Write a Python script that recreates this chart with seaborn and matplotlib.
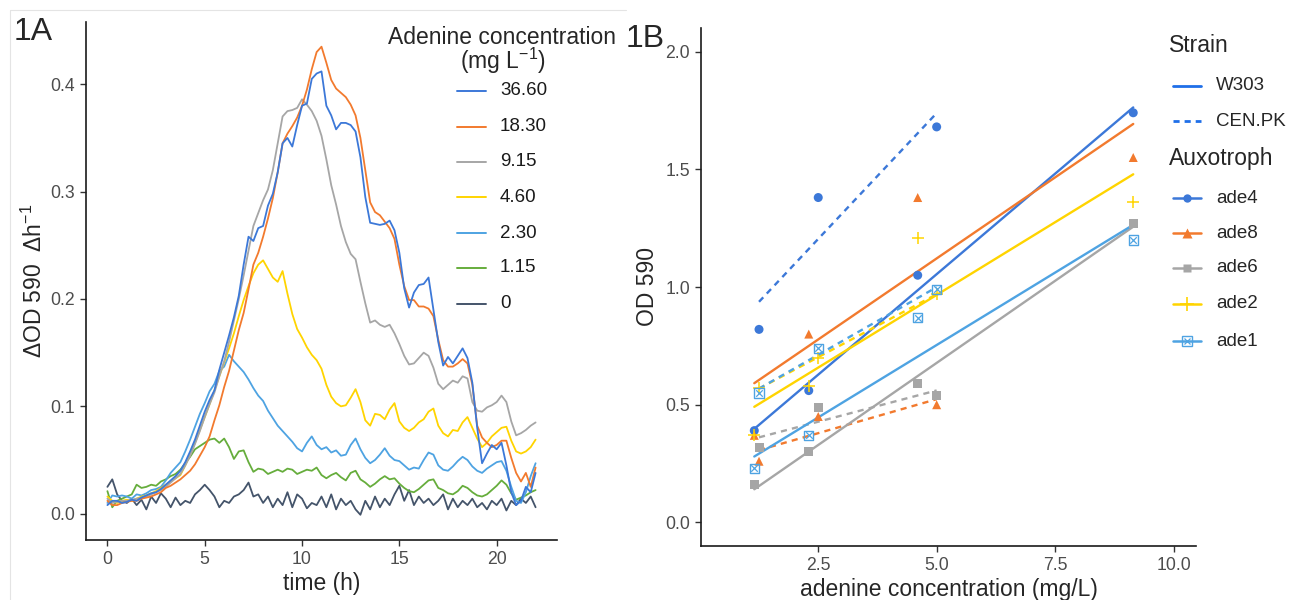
import numpy as np
import pandas as pd
import matplotlib
matplotlib.use("Agg")
import matplotlib.pyplot as plt
from matplotlib.lines import Line2D
from matplotlib.markers import MarkerStyle
import seaborn as sns

# ---------------- Panel A data ----------------
time_h = np.arange(0, 22.001, 0.25)

conc_labels = ["36.60", "18.30", "9.15", "4.60", "2.30", "1.15", "0"]

rate_36_60 = [0.008, 0.012, 0.012, 0.010, 0.011, 0.013, 0.012, 0.015, 0.017, 0.019, 0.020, 0.023,
              0.027, 0.031, 0.035, 0.040, 0.048, 0.058, 0.069, 0.082, 0.095, 0.106, 0.115, 0.134,
              0.150, 0.166, 0.183, 0.203, 0.232, 0.258, 0.254, 0.266, 0.268, 0.287, 0.298, 0.318,
              0.345, 0.350, 0.342, 0.362, 0.380, 0.382, 0.405, 0.410, 0.412, 0.380, 0.371, 0.358,
              0.364, 0.364, 0.362, 0.356, 0.332, 0.295, 0.271, 0.270, 0.269, 0.270, 0.273, 0.264,
              0.243, 0.210, 0.192, 0.206, 0.213, 0.214, 0.220, 0.190, 0.160, 0.138, 0.146, 0.140,
              0.147, 0.154, 0.145, 0.122, 0.080, 0.047, 0.056, 0.064, 0.060, 0.066, 0.045, 0.020,
              0.008, 0.012, 0.025, 0.020, 0.038]

rate_18_30 = [0.012, 0.008, 0.008, 0.010, 0.011, 0.012, 0.012, 0.014, 0.015, 0.016, 0.018, 0.020,
              0.024, 0.026, 0.029, 0.032, 0.036, 0.040, 0.046, 0.054, 0.062, 0.072, 0.087, 0.101,
              0.118, 0.133, 0.152, 0.171, 0.187, 0.209, 0.232, 0.243, 0.258, 0.275, 0.294, 0.318,
              0.345, 0.354, 0.361, 0.369, 0.380, 0.395, 0.414, 0.430, 0.435, 0.420, 0.404, 0.396,
              0.392, 0.388, 0.381, 0.371, 0.350, 0.320, 0.290, 0.281, 0.278, 0.272, 0.266, 0.256,
              0.232, 0.212, 0.199, 0.199, 0.193, 0.193, 0.191, 0.184, 0.162, 0.143, 0.137, 0.137,
              0.140, 0.144, 0.140, 0.120, 0.082, 0.071, 0.066, 0.062, 0.064, 0.068, 0.068, 0.052,
              0.038, 0.030, 0.038, 0.025, 0.043]

rate_9_15 = [0.014, 0.010, 0.011, 0.012, 0.012, 0.013, 0.014, 0.015, 0.016, 0.018, 0.020, 0.022,
             0.025, 0.029, 0.033, 0.037, 0.045, 0.054, 0.065, 0.077, 0.090, 0.102, 0.113, 0.128,
             0.142, 0.160, 0.180, 0.200, 0.222, 0.245, 0.268, 0.280, 0.292, 0.302, 0.320, 0.345,
             0.370, 0.375, 0.376, 0.378, 0.386, 0.381, 0.375, 0.366, 0.352, 0.330, 0.306, 0.288,
             0.268, 0.253, 0.242, 0.237, 0.216, 0.196, 0.178, 0.180, 0.176, 0.174, 0.176, 0.168,
             0.158, 0.147, 0.139, 0.140, 0.145, 0.150, 0.147, 0.136, 0.121, 0.116, 0.120, 0.124,
             0.122, 0.128, 0.126, 0.104, 0.096, 0.095, 0.099, 0.101, 0.104, 0.110, 0.104, 0.086,
             0.073, 0.075, 0.078, 0.082, 0.085]

rate_4_60 = [0.016, 0.012, 0.010, 0.012, 0.013, 0.012, 0.014, 0.016, 0.017, 0.019, 0.021, 0.024,
             0.027, 0.030, 0.033, 0.036, 0.045, 0.055, 0.066, 0.078, 0.090, 0.102, 0.115, 0.128,
             0.141, 0.154, 0.168, 0.184, 0.199, 0.212, 0.224, 0.232, 0.236, 0.228, 0.220, 0.216,
             0.226, 0.205, 0.186, 0.172, 0.164, 0.155, 0.148, 0.143, 0.135, 0.120, 0.109, 0.103,
             0.100, 0.101, 0.108, 0.116, 0.104, 0.087, 0.082, 0.093, 0.092, 0.088, 0.097, 0.103,
             0.086, 0.080, 0.077, 0.080, 0.085, 0.088, 0.095, 0.098, 0.082, 0.075, 0.072, 0.078,
             0.077, 0.085, 0.090, 0.080, 0.070, 0.062, 0.066, 0.072, 0.076, 0.080, 0.081, 0.068,
             0.058, 0.056, 0.058, 0.062, 0.069]

rate_2_30 = [0.010, 0.017, 0.016, 0.017, 0.016, 0.014, 0.018, 0.017, 0.019, 0.022, 0.023, 0.025,
             0.031, 0.038, 0.043, 0.048, 0.058, 0.069, 0.081, 0.093, 0.103, 0.114, 0.121, 0.133,
             0.137, 0.148, 0.142, 0.137, 0.132, 0.125, 0.117, 0.110, 0.105, 0.096, 0.089, 0.082,
             0.077, 0.072, 0.067, 0.061, 0.058, 0.066, 0.072, 0.064, 0.060, 0.062, 0.057, 0.059,
             0.054, 0.055, 0.064, 0.070, 0.060, 0.052, 0.047, 0.050, 0.055, 0.061, 0.054, 0.050,
             0.049, 0.045, 0.041, 0.043, 0.042, 0.050, 0.057, 0.055, 0.045, 0.041, 0.040, 0.044,
             0.049, 0.053, 0.050, 0.044, 0.040, 0.038, 0.042, 0.045, 0.048, 0.049, 0.040, 0.025,
             0.012, 0.010, 0.020, 0.035, 0.047]

rate_1_15 = [0.021, 0.006, 0.012, 0.014, 0.016, 0.018, 0.027, 0.024, 0.025, 0.027, 0.026, 0.030,
             0.032, 0.035, 0.037, 0.041, 0.047, 0.053, 0.060, 0.063, 0.066, 0.069, 0.070, 0.066,
             0.070, 0.062, 0.051, 0.058, 0.059, 0.048, 0.039, 0.042, 0.041, 0.037, 0.039, 0.041,
             0.039, 0.042, 0.041, 0.037, 0.039, 0.041, 0.040, 0.043, 0.036, 0.033, 0.036, 0.038,
             0.034, 0.031, 0.038, 0.040, 0.032, 0.029, 0.025, 0.028, 0.032, 0.035, 0.032, 0.033,
             0.028, 0.024, 0.021, 0.020, 0.023, 0.027, 0.031, 0.032, 0.024, 0.022, 0.019, 0.018,
             0.021, 0.026, 0.024, 0.020, 0.017, 0.016, 0.018, 0.022, 0.026, 0.031, 0.027, 0.019,
             0.013, 0.015, 0.017, 0.020, 0.022]

rate_0 = [0.025, 0.032, 0.018, 0.012, 0.010, 0.014, 0.008, 0.013, 0.004, 0.016, 0.010, 0.019,
          0.014, 0.006, 0.015, 0.008, 0.012, 0.010, 0.018, 0.022, 0.027, 0.022, 0.016, 0.006,
          0.012, 0.010, 0.016, 0.018, 0.022, 0.029, 0.016, 0.018, 0.010, 0.016, 0.006, 0.014,
          0.008, 0.020, 0.006, 0.018, 0.014, 0.005, 0.010, 0.008, 0.016, 0.006, 0.018, 0.004,
          0.014, 0.008, 0.012, 0.004, -0.001, 0.012, 0.004, 0.016, 0.006, 0.014, 0.008, 0.018,
          0.026, 0.012, 0.022, 0.008, 0.016, 0.010, 0.014, 0.008, 0.012, 0.018, 0.004, 0.014,
          0.006, 0.012, 0.008, 0.014, 0.006, 0.010, 0.004, 0.012, 0.008, 0.014, 0.003, 0.012,
          0.008, 0.014, 0.010, 0.016, 0.006]

conc_colors = ["#3C78D8", "#F27A2E", "#A6A6A6", "#FFD400", "#4EA3E2", "#66AD3C", "#44546A"]

# ---------------- Panel B data ----------------
w303_conc = [1.15, 2.3, 4.6, 9.15]
cenpk_conc = [1.25, 2.5, 5.0]
auxotrophs = ["ade4", "ade8", "ade6", "ade2", "ade1"]
w303_od = {
    "ade4": [0.39, 0.56, 1.05, 1.74],
    "ade8": [0.37, 0.80, 1.38, 1.55],
    "ade6": [0.16, 0.30, 0.59, 1.27],
    "ade2": [0.37, 0.58, 1.21, 1.36],
    "ade1": [0.23, 0.37, 0.87, 1.20],
}
cenpk_od = {
    "ade4": [0.82, 1.38, 1.68],
    "ade8": [0.26, 0.45, 0.50],
    "ade6": [0.32, 0.49, 0.54],
    "ade2": [0.57, 0.70, 0.97],
    "ade1": [0.55, 0.74, 0.99],
}
aux_colors = ["#3C78D8", "#F27A2E", "#A6A6A6", "#FFD400", "#4EA3E2"]
strain_color = "#1F6FE8"

# ---------------- style ----------------
sns.set_theme(style="ticks")
plt.rcParams["font.family"] = ["Liberation Sans", "DejaVu Sans"]
plt.rcParams["mathtext.fontset"] = "custom"
plt.rcParams["mathtext.rm"] = "Liberation Sans"
plt.rcParams["mathtext.it"] = "Liberation Sans:italic"
plt.rcParams["mathtext.bf"] = "Liberation Sans:bold"

W, H = 1296, 600
fig = plt.figure(figsize=(W / 100, H / 100), dpi=100)


def fx(x):
    return x / W


def fy(y):
    return 1 - y / H


TICK_FS = 12.7
LAB_FS = 16.5
LEG_FS = 13.5
TICK_COL = "#4D4D4D"

# ---------------- Panel A ----------------
axA = fig.add_axes([fx(86), fy(540), fx(557) - fx(86), fy(22) - fy(540)])
series = [rate_36_60, rate_18_30, rate_9_15, rate_4_60, rate_2_30, rate_1_15, rate_0]
dfA = pd.concat([
    pd.DataFrame({"time": time_h, "rate": vals, "conc": lab})
    for lab, vals in zip(conc_labels, series)
], ignore_index=True)
sns.lineplot(data=dfA, x="time", y="rate", hue="conc", hue_order=conc_labels[::-1],
             palette=dict(zip(conc_labels, conc_colors)), estimator=None, sort=False,
             linewidth=1.3, legend=False, ax=axA)
axA.set_xlim(-1.1, 23.1)
axA.set_ylim(-0.0245, 0.458)
axA.set_xticks([0, 5, 10, 15, 20])
axA.set_yticks([0.0, 0.1, 0.2, 0.3, 0.4])
axA.set_yticklabels(["0.0", "0.1", "0.2", "0.3", "0.4"])
axA.set_xlabel("time (h)", fontsize=LAB_FS, labelpad=3)
axA.set_ylabel("ΔOD 590  Δh$^{-1}$", fontsize=LAB_FS, labelpad=2)

# ---------------- Panel B ----------------
axB = fig.add_axes([fx(701), fy(546), fx(1196) - fx(701), fy(28) - fy(546)])
rows = []
for aux in auxotrophs:
    for c, v in zip(w303_conc, w303_od[aux]):
        rows.append({"conc": c, "od": v, "strain": "W303", "aux": aux})
    for c, v in zip(cenpk_conc, cenpk_od[aux]):
        rows.append({"conc": c, "od": v, "strain": "CEN.PK", "aux": aux})
dfB = pd.DataFrame(rows)

dash = (0, (2.6, 2.2))
for aux, col in zip(auxotrophs, aux_colors):
    for strain, ls in [("W303", "-"), ("CEN.PK", dash)]:
        sub = dfB[(dfB.aux == aux) & (dfB.strain == strain)]
        sns.regplot(data=sub, x="conc", y="od", scatter=False, ci=None, truncate=True,
                    color=col, line_kws=dict(lw=1.7, ls=ls), ax=axB)

marker_map = {"ade4": "o", "ade8": "^", "ade6": "s", "ade2": "+"}
for aux, col in zip(auxotrophs, aux_colors):
    sub = dfB[dfB.aux == aux]
    if aux == "ade1":
        sns.scatterplot(data=sub, x="conc", y="od", color=col,
                        marker=MarkerStyle("s", fillstyle="none"), s=45, linewidth=1.0,
                        ax=axB, legend=False, zorder=4)
        sns.scatterplot(data=sub, x="conc", y="od", color=col, marker="x", s=22,
                        linewidth=0.9, ax=axB, legend=False, zorder=4)
    elif aux == "ade2":
        sns.scatterplot(data=sub, x="conc", y="od", color=col, marker="+", s=80,
                        linewidth=1.1, ax=axB, legend=False, zorder=4)
    else:
        sns.scatterplot(data=sub, x="conc", y="od", color=col, marker=marker_map[aux],
                        s=42, edgecolor="none", ax=axB, legend=False, zorder=4)

axB.set_xlim(0.025, 10.475)
axB.set_ylim(-0.1, 2.1)
axB.set_xticks([2.5, 5.0, 7.5, 10.0])
axB.set_xticklabels(["2.5", "5.0", "7.5", "10.0"])
axB.set_yticks([0.0, 0.5, 1.0, 1.5, 2.0])
axB.set_yticklabels(["0.0", "0.5", "1.0", "1.5", "2.0"])
axB.set_xlabel("adenine concentration (mg/L)", fontsize=LAB_FS, labelpad=3)
axB.set_ylabel("OD 590", fontsize=LAB_FS, labelpad=4)

for ax in (axA, axB):
    sns.despine(ax=ax)
    for sp in ("left", "bottom"):
        ax.spines[sp].set_linewidth(1.2)
        ax.spines[sp].set_color("#1a1a1a")
    ax.tick_params(axis="both", labelsize=TICK_FS, labelcolor=TICK_COL, length=4,
                   width=1.0, color="#333333", pad=4)
    ax.grid(False)

# ---------------- Legend, panel A ----------------
fig.text(fx(502), fy(37), "Adenine concentration", ha="center", va="center", fontsize=LAB_FS)
fig.text(fx(503), fy(61), "(mg L$^{-1}$)", ha="center", va="center", fontsize=LAB_FS)
ys_A = [91, 126.5, 162, 197, 233, 268, 304]
for lab, col, yy in zip(conc_labels, conc_colors, ys_A):
    fig.add_artist(Line2D([fx(457), fx(486)], [fy(yy), fy(yy)], color=col, lw=1.4,
                          transform=fig.transFigure))
    fig.text(fx(500), fy(yy), lab, ha="left", va="center", fontsize=LEG_FS, color="#1a1a1a")

# ---------------- Legend, panel B ----------------
fig.text(fx(1169), fy(46), "Strain", ha="left", va="center", fontsize=LAB_FS)
fig.add_artist(Line2D([fx(1173), fx(1201)], [fy(86), fy(86)], color=strain_color, lw=2.0,
                      transform=fig.transFigure))
fig.text(fx(1216), fy(86), "W303", ha="left", va="center", fontsize=LEG_FS)
fig.add_artist(Line2D([fx(1173), fx(1201)], [fy(121), fy(121)], color=strain_color, lw=2.0,
                      ls=(0, (2.2, 1.8)), transform=fig.transFigure))
fig.text(fx(1216), fy(121), "CEN.PK", ha="left", va="center", fontsize=LEG_FS)
fig.text(fx(1169), fy(158), "Auxotroph", ha="left", va="center", fontsize=LAB_FS)
ys_B = [198, 233, 268, 304, 341]
leg_markers = {"ade4": dict(marker="o", ms=6, mec="none"),
               "ade8": dict(marker="^", ms=7, mec="none"),
               "ade6": dict(marker="s", ms=6, mec="none"),
               "ade2": dict(marker="+", ms=10, mew=1.2),
               "ade1": dict(marker="s", ms=6.5, mfc="none", mew=1.0)}
for aux, col, yy in zip(auxotrophs, aux_colors, ys_B):
    fig.add_artist(Line2D([fx(1173), fx(1187), fx(1201)], [fy(yy)] * 3, color=col, lw=1.8,
                          markevery=[1], transform=fig.transFigure, **leg_markers[aux]))
    if aux == "ade1":
        fig.add_artist(Line2D([fx(1187)], [fy(yy)], color=col, marker="x", ms=4.5, mew=0.9,
                              lw=0, transform=fig.transFigure))
    fig.text(fx(1216), fy(yy), aux, ha="left", va="center", fontsize=LEG_FS)

# ---------------- panel tags and frame ----------------
fig.text(fx(14), fy(40), "1A", ha="left", va="baseline", fontsize=23)
fig.text(fx(626), fy(47), "1B", ha="left", va="baseline", fontsize=23)
fig.add_artist(Line2D([fx(10), fx(626)], [fy(10), fy(10)], color="#e4e4e4", lw=0.8,
                      transform=fig.transFigure))
fig.add_artist(Line2D([fx(10), fx(10)], [fy(10), fy(600)], color="#e4e4e4", lw=0.8,
                      transform=fig.transFigure))

fig.savefig("out.png", dpi=100)
